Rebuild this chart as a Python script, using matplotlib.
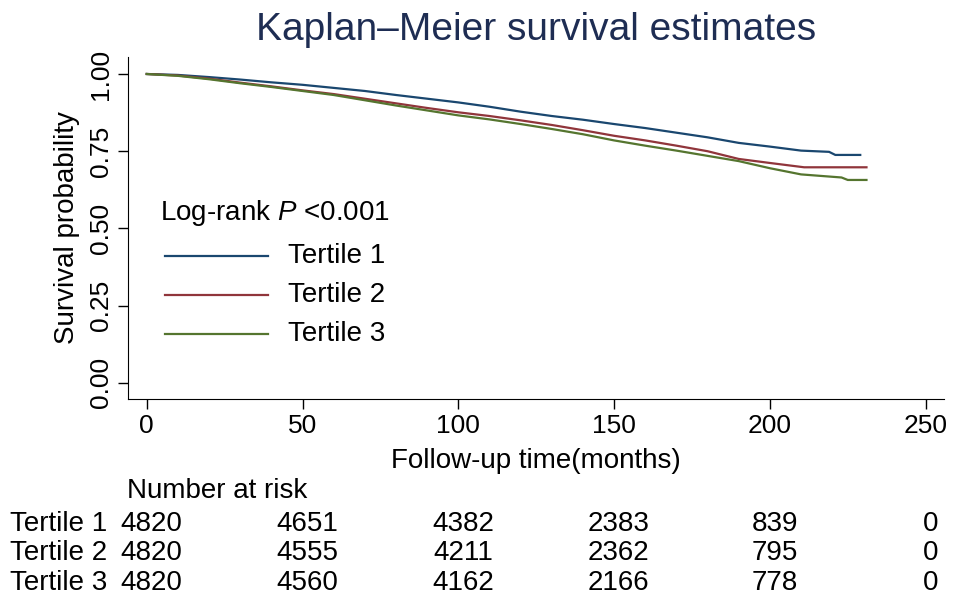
import numpy as np
import matplotlib
matplotlib.use("Agg")
import matplotlib.pyplot as plt
from matplotlib.lines import Line2D
from matplotlib.transforms import blended_transform_factory

plt.rcParams['font.family'] = ['Liberation Sans', 'DejaVu Sans']
plt.rcParams['mathtext.fontset'] = 'custom'
plt.rcParams['mathtext.rm'] = 'Liberation Sans'
plt.rcParams['mathtext.it'] = 'Liberation Sans:italic'

# survival curves (months, probability)
t1_time = [0, 10, 20, 30, 40, 50, 60, 70, 80, 90, 100, 110, 120, 130, 140, 150,
           160, 170, 180, 190, 200, 210, 219, 221, 229]
t1_surv = [1.0, 0.997, 0.99, 0.982, 0.973, 0.965, 0.955, 0.945, 0.932, 0.92, 0.908,
           0.894, 0.878, 0.864, 0.852, 0.838, 0.825, 0.81, 0.795, 0.777, 0.765,
           0.752, 0.748, 0.738, 0.738]
t2_time = [0, 10, 20, 30, 40, 50, 60, 70, 80, 90, 100, 110, 120, 130, 140, 150,
           160, 170, 180, 190, 200, 211, 231]
t2_surv = [1.0, 0.995, 0.985, 0.972, 0.96, 0.947, 0.935, 0.92, 0.905, 0.89, 0.876,
           0.864, 0.85, 0.835, 0.818, 0.80, 0.785, 0.768, 0.75, 0.725, 0.712,
           0.698, 0.698]
t3_time = [0, 10, 20, 30, 40, 50, 60, 70, 80, 90, 100, 110, 120, 130, 140, 150,
           160, 170, 180, 190, 200, 210, 223, 225, 231]
t3_surv = [1.0, 0.994, 0.983, 0.97, 0.958, 0.945, 0.932, 0.915, 0.898, 0.882, 0.866,
           0.853, 0.838, 0.822, 0.805, 0.785, 0.768, 0.752, 0.735, 0.718, 0.695,
           0.675, 0.665, 0.657, 0.657]

groups = ["Tertile 1", "Tertile 2", "Tertile 3"]
colors = ["#1a476f", "#90353b", "#55752f"]

risk_times = [0, 50, 100, 150, 200, 250]
risk_t1 = [4820, 4651, 4382, 2383, 839, 0]
risk_t2 = [4820, 4555, 4211, 2362, 795, 0]
risk_t3 = [4820, 4560, 4162, 2166, 778, 0]

fig = plt.figure(figsize=(9.57, 6), dpi=100)
ax = fig.add_axes([0.1338, 0.335, 0.853, 0.57])

curves = [(t1_time, t1_surv), (t2_time, t2_surv), (t3_time, t3_surv)]
for (tt, ss), c in zip(curves, colors):
    ax.plot(tt, ss, color=c, lw=1.6, solid_joinstyle='round')

ax.set_xlim(-6, 256)
ax.set_ylim(-0.052, 1.055)
ax.set_xticks(risk_times)
ax.set_yticks([0, 0.25, 0.5, 0.75, 1.0])
ax.set_yticklabels(["0.00", "0.25", "0.50", "0.75", "1.00"], rotation=90, va='center')
ax.tick_params(labelsize=19, length=7, width=1.0, direction='out', pad=4)
for s in ['top', 'right']:
    ax.spines[s].set_visible(False)
ax.set_xlabel("Follow-up time(months)", fontsize=20, labelpad=7)
ax.set_ylabel("Survival probability", fontsize=20, labelpad=6)

fig.text(0.56, 0.95, "Kaplan\u2013Meier survival estimates", fontsize=28,
         color="#1e2d53", ha='center', va='center')

# legend
def px(x, y):
    return x / 957, 1 - y / 600

fig.text(*px(160, 213), r"Log-rank $P$ <0.001", fontsize=20, va='center', ha='left')
for i, (g, c) in enumerate(zip(groups, colors)):
    y = 256 + 39 * i
    x0, y0 = px(165, y)
    x1, _ = px(268, y)
    fig.add_artist(Line2D([x0, x1], [y0, y0], color=c, lw=1.6, transform=fig.transFigure))
    fig.text(*px(288, y), g, fontsize=20, va='center', ha='left')

# number at risk table
trans = blended_transform_factory(ax.transData, fig.transFigure)
fig.text(*px(127, 491), "Number at risk", fontsize=20, va='center', ha='left')
for i, (g, row) in enumerate(zip(groups, [risk_t1, risk_t2, risk_t3])):
    y = 1 - (524 + 29.5 * i) / 600
    fig.text(10 / 957, y, g, fontsize=20, va='center', ha='left')
    for t, n in zip(risk_times, row):
        ax.text(t + 1.5, y, str(n), fontsize=20, va='center', ha='center',
                transform=trans, clip_on=False)

fig.savefig("out.png", dpi=100)
